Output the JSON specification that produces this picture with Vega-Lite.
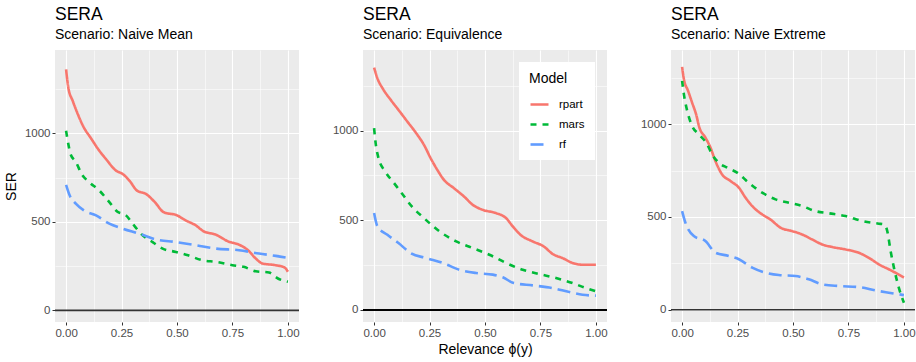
{
  "$schema": "https://vega.github.io/schema/vega-lite/v6.json",
  "padding": {"left": 4, "top": 5, "right": 2, "bottom": 3},
  "background": "white",
  "spacing": 32,
  "config": {
    "font": "Liberation Sans",
    "view": {"fill": "#EBEBEB", "stroke": null},
    "title": {"anchor": "start", "frame": "group", "fontSize": 17.5, "fontWeight": "normal", "subtitleFontSize": 14, "font": "Liberation Sans", "subtitleFont": "Liberation Sans", "color": "black", "subtitleColor": "black", "offset": 8, "subtitlePadding": 5},
    "axis": {"domain": false, "gridColor": "white", "tickColor": "#333333", "tickSize": 3, "labelColor": "#4D4D4D", "labelFontSize": 11.5, "labelPadding": 2, "titleFontSize": 14, "titleFontWeight": "normal", "titleColor": "black", "labelFont": "Liberation Sans", "titleFont": "Liberation Sans"},
    "legend": {"titleFontSize": 14, "titleFontWeight": "normal", "labelFontSize": 11.5, "labelColor": "black", "titleColor": "black", "fillColor": "white", "padding": 10, "symbolType": "stroke", "symbolSize": 324, "symbolStrokeWidth": 2.6, "rowPadding": 4, "titlePadding": 8, "labelOffset": 9}
  },
  "datasets": {
    "zero": [{"level": 0}],
    "sera": [
      {"scenario": "Naive Mean", "model": "rpart", "phi": 0, "ser": 1362},
      {"scenario": "Naive Mean", "model": "rpart", "phi": 0.01, "ser": 1259},
      {"scenario": "Naive Mean", "model": "rpart", "phi": 0.03, "ser": 1184},
      {"scenario": "Naive Mean", "model": "rpart", "phi": 0.05, "ser": 1118},
      {"scenario": "Naive Mean", "model": "rpart", "phi": 0.08, "ser": 1034},
      {"scenario": "Naive Mean", "model": "rpart", "phi": 0.11, "ser": 977},
      {"scenario": "Naive Mean", "model": "rpart", "phi": 0.15, "ser": 902},
      {"scenario": "Naive Mean", "model": "rpart", "phi": 0.18, "ser": 855},
      {"scenario": "Naive Mean", "model": "rpart", "phi": 0.225, "ser": 790},
      {"scenario": "Naive Mean", "model": "rpart", "phi": 0.255, "ser": 771},
      {"scenario": "Naive Mean", "model": "rpart", "phi": 0.285, "ser": 734},
      {"scenario": "Naive Mean", "model": "rpart", "phi": 0.32, "ser": 677},
      {"scenario": "Naive Mean", "model": "rpart", "phi": 0.36, "ser": 658},
      {"scenario": "Naive Mean", "model": "rpart", "phi": 0.4, "ser": 612},
      {"scenario": "Naive Mean", "model": "rpart", "phi": 0.44, "ser": 555},
      {"scenario": "Naive Mean", "model": "rpart", "phi": 0.5, "ser": 537},
      {"scenario": "Naive Mean", "model": "rpart", "phi": 0.54, "ser": 508},
      {"scenario": "Naive Mean", "model": "rpart", "phi": 0.585, "ser": 480},
      {"scenario": "Naive Mean", "model": "rpart", "phi": 0.62, "ser": 447},
      {"scenario": "Naive Mean", "model": "rpart", "phi": 0.675, "ser": 428},
      {"scenario": "Naive Mean", "model": "rpart", "phi": 0.73, "ser": 390},
      {"scenario": "Naive Mean", "model": "rpart", "phi": 0.78, "ser": 371},
      {"scenario": "Naive Mean", "model": "rpart", "phi": 0.82, "ser": 340},
      {"scenario": "Naive Mean", "model": "rpart", "phi": 0.855, "ser": 293},
      {"scenario": "Naive Mean", "model": "rpart", "phi": 0.885, "ser": 265},
      {"scenario": "Naive Mean", "model": "rpart", "phi": 0.945, "ser": 255},
      {"scenario": "Naive Mean", "model": "rpart", "phi": 0.985, "ser": 242},
      {"scenario": "Naive Mean", "model": "rpart", "phi": 1.0, "ser": 218},
      {"scenario": "Naive Mean", "model": "mars", "phi": 0, "ser": 1015},
      {"scenario": "Naive Mean", "model": "mars", "phi": 0.01, "ser": 940},
      {"scenario": "Naive Mean", "model": "mars", "phi": 0.02, "ser": 884},
      {"scenario": "Naive Mean", "model": "mars", "phi": 0.045, "ser": 837},
      {"scenario": "Naive Mean", "model": "mars", "phi": 0.07, "ser": 771},
      {"scenario": "Naive Mean", "model": "mars", "phi": 0.105, "ser": 724},
      {"scenario": "Naive Mean", "model": "mars", "phi": 0.15, "ser": 677},
      {"scenario": "Naive Mean", "model": "mars", "phi": 0.195, "ser": 612},
      {"scenario": "Naive Mean", "model": "mars", "phi": 0.23, "ser": 559},
      {"scenario": "Naive Mean", "model": "mars", "phi": 0.27, "ser": 537},
      {"scenario": "Naive Mean", "model": "mars", "phi": 0.3, "ser": 490},
      {"scenario": "Naive Mean", "model": "mars", "phi": 0.345, "ser": 424},
      {"scenario": "Naive Mean", "model": "mars", "phi": 0.39, "ser": 386},
      {"scenario": "Naive Mean", "model": "mars", "phi": 0.435, "ser": 349},
      {"scenario": "Naive Mean", "model": "mars", "phi": 0.495, "ser": 330},
      {"scenario": "Naive Mean", "model": "mars", "phi": 0.55, "ser": 311},
      {"scenario": "Naive Mean", "model": "mars", "phi": 0.615, "ser": 283},
      {"scenario": "Naive Mean", "model": "mars", "phi": 0.675, "ser": 274},
      {"scenario": "Naive Mean", "model": "mars", "phi": 0.75, "ser": 255},
      {"scenario": "Naive Mean", "model": "mars", "phi": 0.8, "ser": 246},
      {"scenario": "Naive Mean", "model": "mars", "phi": 0.855, "ser": 221},
      {"scenario": "Naive Mean", "model": "mars", "phi": 0.915, "ser": 214},
      {"scenario": "Naive Mean", "model": "mars", "phi": 0.955, "ser": 180},
      {"scenario": "Naive Mean", "model": "mars", "phi": 1.0, "ser": 161},
      {"scenario": "Naive Mean", "model": "rf", "phi": 0, "ser": 709},
      {"scenario": "Naive Mean", "model": "rf", "phi": 0.015, "ser": 653},
      {"scenario": "Naive Mean", "model": "rf", "phi": 0.045, "ser": 602},
      {"scenario": "Naive Mean", "model": "rf", "phi": 0.08, "ser": 565},
      {"scenario": "Naive Mean", "model": "rf", "phi": 0.135, "ser": 537},
      {"scenario": "Naive Mean", "model": "rf", "phi": 0.195, "ser": 490},
      {"scenario": "Naive Mean", "model": "rf", "phi": 0.255, "ser": 462},
      {"scenario": "Naive Mean", "model": "rf", "phi": 0.33, "ser": 433},
      {"scenario": "Naive Mean", "model": "rf", "phi": 0.405, "ser": 401},
      {"scenario": "Naive Mean", "model": "rf", "phi": 0.495, "ser": 386},
      {"scenario": "Naive Mean", "model": "rf", "phi": 0.585, "ser": 368},
      {"scenario": "Naive Mean", "model": "rf", "phi": 0.675, "ser": 349},
      {"scenario": "Naive Mean", "model": "rf", "phi": 0.78, "ser": 340},
      {"scenario": "Naive Mean", "model": "rf", "phi": 0.87, "ser": 321},
      {"scenario": "Naive Mean", "model": "rf", "phi": 0.945, "ser": 308},
      {"scenario": "Naive Mean", "model": "rf", "phi": 1.0, "ser": 296},
      {"scenario": "Equivalence", "model": "rpart", "phi": 0, "ser": 1351},
      {"scenario": "Equivalence", "model": "rpart", "phi": 0.015, "ser": 1291},
      {"scenario": "Equivalence", "model": "rpart", "phi": 0.04, "ser": 1232},
      {"scenario": "Equivalence", "model": "rpart", "phi": 0.075, "ser": 1171},
      {"scenario": "Equivalence", "model": "rpart", "phi": 0.11, "ser": 1115},
      {"scenario": "Equivalence", "model": "rpart", "phi": 0.15, "ser": 1050},
      {"scenario": "Equivalence", "model": "rpart", "phi": 0.19, "ser": 985},
      {"scenario": "Equivalence", "model": "rpart", "phi": 0.225, "ser": 920},
      {"scenario": "Equivalence", "model": "rpart", "phi": 0.255, "ser": 846},
      {"scenario": "Equivalence", "model": "rpart", "phi": 0.285, "ser": 781},
      {"scenario": "Equivalence", "model": "rpart", "phi": 0.315, "ser": 725},
      {"scenario": "Equivalence", "model": "rpart", "phi": 0.36, "ser": 679},
      {"scenario": "Equivalence", "model": "rpart", "phi": 0.405, "ser": 633},
      {"scenario": "Equivalence", "model": "rpart", "phi": 0.445, "ser": 586},
      {"scenario": "Equivalence", "model": "rpart", "phi": 0.49, "ser": 558},
      {"scenario": "Equivalence", "model": "rpart", "phi": 0.55, "ser": 540},
      {"scenario": "Equivalence", "model": "rpart", "phi": 0.595, "ser": 512},
      {"scenario": "Equivalence", "model": "rpart", "phi": 0.625, "ser": 466},
      {"scenario": "Equivalence", "model": "rpart", "phi": 0.66, "ser": 419},
      {"scenario": "Equivalence", "model": "rpart", "phi": 0.715, "ser": 382},
      {"scenario": "Equivalence", "model": "rpart", "phi": 0.765, "ser": 354},
      {"scenario": "Equivalence", "model": "rpart", "phi": 0.805, "ser": 312},
      {"scenario": "Equivalence", "model": "rpart", "phi": 0.85, "ser": 289},
      {"scenario": "Equivalence", "model": "rpart", "phi": 0.895, "ser": 262},
      {"scenario": "Equivalence", "model": "rpart", "phi": 0.94, "ser": 252},
      {"scenario": "Equivalence", "model": "rpart", "phi": 1.0, "ser": 252},
      {"scenario": "Equivalence", "model": "mars", "phi": 0, "ser": 1013},
      {"scenario": "Equivalence", "model": "mars", "phi": 0.008, "ser": 920},
      {"scenario": "Equivalence", "model": "mars", "phi": 0.02, "ser": 846},
      {"scenario": "Equivalence", "model": "mars", "phi": 0.05, "ser": 772},
      {"scenario": "Equivalence", "model": "mars", "phi": 0.09, "ser": 707},
      {"scenario": "Equivalence", "model": "mars", "phi": 0.13, "ser": 642},
      {"scenario": "Equivalence", "model": "mars", "phi": 0.17, "ser": 577},
      {"scenario": "Equivalence", "model": "mars", "phi": 0.225, "ser": 512},
      {"scenario": "Equivalence", "model": "mars", "phi": 0.295, "ser": 438},
      {"scenario": "Equivalence", "model": "mars", "phi": 0.37, "ser": 382},
      {"scenario": "Equivalence", "model": "mars", "phi": 0.445, "ser": 345},
      {"scenario": "Equivalence", "model": "mars", "phi": 0.52, "ser": 308},
      {"scenario": "Equivalence", "model": "mars", "phi": 0.595, "ser": 262},
      {"scenario": "Equivalence", "model": "mars", "phi": 0.67, "ser": 224},
      {"scenario": "Equivalence", "model": "mars", "phi": 0.745, "ser": 200},
      {"scenario": "Equivalence", "model": "mars", "phi": 0.82, "ser": 178},
      {"scenario": "Equivalence", "model": "mars", "phi": 0.895, "ser": 150},
      {"scenario": "Equivalence", "model": "mars", "phi": 0.955, "ser": 122},
      {"scenario": "Equivalence", "model": "mars", "phi": 1.0, "ser": 104},
      {"scenario": "Equivalence", "model": "rf", "phi": 0, "ser": 540},
      {"scenario": "Equivalence", "model": "rf", "phi": 0.015, "ser": 466},
      {"scenario": "Equivalence", "model": "rf", "phi": 0.06, "ser": 419},
      {"scenario": "Equivalence", "model": "rf", "phi": 0.11, "ser": 373},
      {"scenario": "Equivalence", "model": "rf", "phi": 0.165, "ser": 317},
      {"scenario": "Equivalence", "model": "rf", "phi": 0.235, "ser": 289},
      {"scenario": "Equivalence", "model": "rf", "phi": 0.31, "ser": 262},
      {"scenario": "Equivalence", "model": "rf", "phi": 0.385, "ser": 224},
      {"scenario": "Equivalence", "model": "rf", "phi": 0.46, "ser": 206},
      {"scenario": "Equivalence", "model": "rf", "phi": 0.535, "ser": 197},
      {"scenario": "Equivalence", "model": "rf", "phi": 0.58, "ser": 182},
      {"scenario": "Equivalence", "model": "rf", "phi": 0.63, "ser": 150},
      {"scenario": "Equivalence", "model": "rf", "phi": 0.715, "ser": 137},
      {"scenario": "Equivalence", "model": "rf", "phi": 0.805, "ser": 122},
      {"scenario": "Equivalence", "model": "rf", "phi": 0.88, "ser": 100},
      {"scenario": "Equivalence", "model": "rf", "phi": 0.94, "ser": 85},
      {"scenario": "Equivalence", "model": "rf", "phi": 1.0, "ser": 80},
      {"scenario": "Naive Extreme", "model": "rpart", "phi": 0, "ser": 1309},
      {"scenario": "Naive Extreme", "model": "rpart", "phi": 0.008, "ser": 1243},
      {"scenario": "Naive Extreme", "model": "rpart", "phi": 0.027, "ser": 1180},
      {"scenario": "Naive Extreme", "model": "rpart", "phi": 0.045, "ser": 1117},
      {"scenario": "Naive Extreme", "model": "rpart", "phi": 0.063, "ser": 1054},
      {"scenario": "Naive Extreme", "model": "rpart", "phi": 0.078, "ser": 982},
      {"scenario": "Naive Extreme", "model": "rpart", "phi": 0.105, "ser": 928},
      {"scenario": "Naive Extreme", "model": "rpart", "phi": 0.128, "ser": 874},
      {"scenario": "Naive Extreme", "model": "rpart", "phi": 0.15, "ser": 802},
      {"scenario": "Naive Extreme", "model": "rpart", "phi": 0.18, "ser": 730},
      {"scenario": "Naive Extreme", "model": "rpart", "phi": 0.218, "ser": 694},
      {"scenario": "Naive Extreme", "model": "rpart", "phi": 0.256, "ser": 658},
      {"scenario": "Naive Extreme", "model": "rpart", "phi": 0.286, "ser": 604},
      {"scenario": "Naive Extreme", "model": "rpart", "phi": 0.323, "ser": 550},
      {"scenario": "Naive Extreme", "model": "rpart", "phi": 0.361, "ser": 514},
      {"scenario": "Naive Extreme", "model": "rpart", "phi": 0.398, "ser": 487},
      {"scenario": "Naive Extreme", "model": "rpart", "phi": 0.444, "ser": 442},
      {"scenario": "Naive Extreme", "model": "rpart", "phi": 0.496, "ser": 424},
      {"scenario": "Naive Extreme", "model": "rpart", "phi": 0.541, "ser": 406},
      {"scenario": "Naive Extreme", "model": "rpart", "phi": 0.586, "ser": 379},
      {"scenario": "Naive Extreme", "model": "rpart", "phi": 0.632, "ser": 352},
      {"scenario": "Naive Extreme", "model": "rpart", "phi": 0.677, "ser": 338},
      {"scenario": "Naive Extreme", "model": "rpart", "phi": 0.737, "ser": 325},
      {"scenario": "Naive Extreme", "model": "rpart", "phi": 0.797, "ser": 307},
      {"scenario": "Naive Extreme", "model": "rpart", "phi": 0.842, "ser": 280},
      {"scenario": "Naive Extreme", "model": "rpart", "phi": 0.887, "ser": 245},
      {"scenario": "Naive Extreme", "model": "rpart", "phi": 0.947, "ser": 209},
      {"scenario": "Naive Extreme", "model": "rpart", "phi": 1.0, "ser": 173},
      {"scenario": "Naive Extreme", "model": "mars", "phi": 0, "ser": 1234},
      {"scenario": "Naive Extreme", "model": "mars", "phi": 0.008, "ser": 1162},
      {"scenario": "Naive Extreme", "model": "mars", "phi": 0.023, "ser": 1072},
      {"scenario": "Naive Extreme", "model": "mars", "phi": 0.045, "ser": 991},
      {"scenario": "Naive Extreme", "model": "mars", "phi": 0.075, "ser": 946},
      {"scenario": "Naive Extreme", "model": "mars", "phi": 0.113, "ser": 892},
      {"scenario": "Naive Extreme", "model": "mars", "phi": 0.135, "ser": 838},
      {"scenario": "Naive Extreme", "model": "mars", "phi": 0.165, "ser": 793},
      {"scenario": "Naive Extreme", "model": "mars", "phi": 0.203, "ser": 766},
      {"scenario": "Naive Extreme", "model": "mars", "phi": 0.248, "ser": 739},
      {"scenario": "Naive Extreme", "model": "mars", "phi": 0.3, "ser": 685},
      {"scenario": "Naive Extreme", "model": "mars", "phi": 0.361, "ser": 631},
      {"scenario": "Naive Extreme", "model": "mars", "phi": 0.421, "ser": 595},
      {"scenario": "Naive Extreme", "model": "mars", "phi": 0.481, "ser": 577},
      {"scenario": "Naive Extreme", "model": "mars", "phi": 0.541, "ser": 559},
      {"scenario": "Naive Extreme", "model": "mars", "phi": 0.6, "ser": 532},
      {"scenario": "Naive Extreme", "model": "mars", "phi": 0.662, "ser": 520},
      {"scenario": "Naive Extreme", "model": "mars", "phi": 0.737, "ser": 505},
      {"scenario": "Naive Extreme", "model": "mars", "phi": 0.812, "ser": 478},
      {"scenario": "Naive Extreme", "model": "mars", "phi": 0.887, "ser": 464},
      {"scenario": "Naive Extreme", "model": "mars", "phi": 0.91, "ser": 460},
      {"scenario": "Naive Extreme", "model": "mars", "phi": 0.925, "ser": 424},
      {"scenario": "Naive Extreme", "model": "mars", "phi": 0.94, "ser": 317},
      {"scenario": "Naive Extreme", "model": "mars", "phi": 0.955, "ser": 227},
      {"scenario": "Naive Extreme", "model": "mars", "phi": 0.977, "ser": 119},
      {"scenario": "Naive Extreme", "model": "mars", "phi": 1.0, "ser": 38},
      {"scenario": "Naive Extreme", "model": "rf", "phi": 0, "ser": 532},
      {"scenario": "Naive Extreme", "model": "rf", "phi": 0.015, "ser": 469},
      {"scenario": "Naive Extreme", "model": "rf", "phi": 0.053, "ser": 397},
      {"scenario": "Naive Extreme", "model": "rf", "phi": 0.105, "ser": 371},
      {"scenario": "Naive Extreme", "model": "rf", "phi": 0.15, "ser": 308},
      {"scenario": "Naive Extreme", "model": "rf", "phi": 0.21, "ser": 290},
      {"scenario": "Naive Extreme", "model": "rf", "phi": 0.256, "ser": 272},
      {"scenario": "Naive Extreme", "model": "rf", "phi": 0.316, "ser": 227},
      {"scenario": "Naive Extreme", "model": "rf", "phi": 0.376, "ser": 200},
      {"scenario": "Naive Extreme", "model": "rf", "phi": 0.436, "ser": 187},
      {"scenario": "Naive Extreme", "model": "rf", "phi": 0.511, "ser": 182},
      {"scenario": "Naive Extreme", "model": "rf", "phi": 0.571, "ser": 164},
      {"scenario": "Naive Extreme", "model": "rf", "phi": 0.632, "ser": 137},
      {"scenario": "Naive Extreme", "model": "rf", "phi": 0.707, "ser": 128},
      {"scenario": "Naive Extreme", "model": "rf", "phi": 0.797, "ser": 122},
      {"scenario": "Naive Extreme", "model": "rf", "phi": 0.872, "ser": 104},
      {"scenario": "Naive Extreme", "model": "rf", "phi": 0.932, "ser": 92},
      {"scenario": "Naive Extreme", "model": "rf", "phi": 1.0, "ser": 79}
    ]
  },
  "resolve": {"scale": {"x": "independent", "y": "independent", "color": "independent", "strokeDash": "independent"}, "legend": {"color": "independent", "strokeDash": "independent"}},
  "hconcat": [
    {
      "width": 244, "height": 272,
      "title": {"text": "SERA", "subtitle": "Scenario: Naive Mean"},
      "layer": [
        {"data": {"name": "zero"}, "mark": {"type": "rule", "color": "#333333", "strokeWidth": 1.6}, "encoding": {"y": {"field": "level", "type": "quantitative"}}},
        {
          "data": {"name": "sera"},
          "transform": [{"filter": "datum.scenario === 'Naive Mean'"}],
          "mark": {"type": "line", "strokeWidth": 2.6, "interpolate": "monotone"},
          "encoding": {
            "x": {"field": "phi", "type": "quantitative", "scale": {"domain": [-0.05, 1.05], "nice": false, "zero": false}, "axis": {"title": null, "values": [0, 0.125, 0.25, 0.375, 0.5, 0.625, 0.75, 0.875, 1], "labelExpr": "(datum.value * 4) % 1 === 0 ? format(datum.value, '.2f') : ''", "gridWidth": {"condition": {"test": "(datum.value * 4) % 1 !== 0", "value": 0.55}, "value": 1.1}, "tickOpacity": {"condition": {"test": "(datum.value * 4) % 1 !== 0", "value": 0}, "value": 1}}},
            "y": {"field": "ser", "type": "quantitative", "scale": {"domain": [-66, 1472], "nice": false, "zero": false}, "axis": {"title": "SER", "titlePadding": 6, "values": [0, 250, 500, 750, 1000, 1250], "labelExpr": "datum.value % 500 === 0 ? format(datum.value, 'd') : ''", "gridWidth": {"condition": {"test": "datum.value % 500 !== 0", "value": 0.55}, "value": 1.1}, "tickOpacity": {"condition": {"test": "datum.value % 500 !== 0", "value": 0}, "value": 1}}},
            "color": {"field": "model", "type": "nominal", "scale": {"domain": ["rpart", "mars", "rf"], "range": ["#F8766D", "#00BA38", "#619CFF"]}, "legend": null},
            "strokeDash": {"field": "model", "type": "nominal", "scale": {"domain": ["rpart", "mars", "rf"], "range": [[1, 0], [6, 6], [13, 6]]}, "legend": null},
            "order": {"field": "phi", "type": "quantitative"}
          }
        }
      ]
    },
    {
      "width": 244, "height": 272,
      "title": {"text": "SERA", "subtitle": "Scenario: Equivalence"},
      "layer": [
        {"data": {"name": "zero"}, "mark": {"type": "rule", "color": "black", "strokeWidth": 1.8}, "encoding": {"y": {"field": "level", "type": "quantitative"}}},
        {
          "data": {"name": "sera"},
          "transform": [{"filter": "datum.scenario === 'Equivalence'"}],
          "mark": {"type": "line", "strokeWidth": 2.6, "interpolate": "monotone"},
          "encoding": {
            "x": {"field": "phi", "type": "quantitative", "scale": {"domain": [-0.05, 1.05], "nice": false, "zero": false}, "axis": {"title": "Relevance ϕ(y)", "titlePadding": 4, "values": [0, 0.125, 0.25, 0.375, 0.5, 0.625, 0.75, 0.875, 1], "labelExpr": "(datum.value * 4) % 1 === 0 ? format(datum.value, '.2f') : ''", "gridWidth": {"condition": {"test": "(datum.value * 4) % 1 !== 0", "value": 0.55}, "value": 1.1}, "tickOpacity": {"condition": {"test": "(datum.value * 4) % 1 !== 0", "value": 0}, "value": 1}}},
            "y": {"field": "ser", "type": "quantitative", "scale": {"domain": [-67, 1449], "nice": false, "zero": false}, "axis": {"title": null, "values": [0, 250, 500, 750, 1000, 1250], "labelExpr": "datum.value % 500 === 0 ? format(datum.value, 'd') : ''", "gridWidth": {"condition": {"test": "datum.value % 500 !== 0", "value": 0.55}, "value": 1.1}, "tickOpacity": {"condition": {"test": "datum.value % 500 !== 0", "value": 0}, "value": 1}}},
            "color": {"field": "model", "type": "nominal", "title": "Model", "scale": {"domain": ["rpart", "mars", "rf"], "range": ["#F8766D", "#00BA38", "#619CFF"]}, "legend": {"orient": "top-right", "offset": 12}},
            "strokeDash": {"field": "model", "type": "nominal", "title": "Model", "scale": {"domain": ["rpart", "mars", "rf"], "range": [[1, 0], [6, 6], [13, 6]]}, "legend": {"orient": "top-right", "offset": 12}},
            "order": {"field": "phi", "type": "quantitative"}
          }
        }
      ]
    },
    {
      "width": 244, "height": 272,
      "title": {"text": "SERA", "subtitle": "Scenario: Naive Extreme"},
      "layer": [
        {"data": {"name": "zero"}, "mark": {"type": "rule", "color": "#333333", "strokeWidth": 1.6}, "encoding": {"y": {"field": "level", "type": "quantitative"}}},
        {
          "data": {"name": "sera"},
          "transform": [{"filter": "datum.scenario === 'Naive Extreme'"}],
          "mark": {"type": "line", "strokeWidth": 2.6, "interpolate": "monotone"},
          "encoding": {
            "x": {"field": "phi", "type": "quantitative", "scale": {"domain": [-0.05, 1.05], "nice": false, "zero": false}, "axis": {"title": null, "values": [0, 0.125, 0.25, 0.375, 0.5, 0.625, 0.75, 0.875, 1], "labelExpr": "(datum.value * 4) % 1 === 0 ? format(datum.value, '.2f') : ''", "gridWidth": {"condition": {"test": "(datum.value * 4) % 1 !== 0", "value": 0.55}, "value": 1.1}, "tickOpacity": {"condition": {"test": "(datum.value * 4) % 1 !== 0", "value": 0}, "value": 1}}},
            "y": {"field": "ser", "type": "quantitative", "scale": {"domain": [-66, 1400], "nice": false, "zero": false}, "axis": {"title": null, "values": [0, 250, 500, 750, 1000, 1250], "labelExpr": "datum.value % 500 === 0 ? format(datum.value, 'd') : ''", "gridWidth": {"condition": {"test": "datum.value % 500 !== 0", "value": 0.55}, "value": 1.1}, "tickOpacity": {"condition": {"test": "datum.value % 500 !== 0", "value": 0}, "value": 1}}},
            "color": {"field": "model", "type": "nominal", "scale": {"domain": ["rpart", "mars", "rf"], "range": ["#F8766D", "#00BA38", "#619CFF"]}, "legend": null},
            "strokeDash": {"field": "model", "type": "nominal", "scale": {"domain": ["rpart", "mars", "rf"], "range": [[1, 0], [6, 6], [13, 6]]}, "legend": null},
            "order": {"field": "phi", "type": "quantitative"}
          }
        }
      ]
    }
  ]
}
